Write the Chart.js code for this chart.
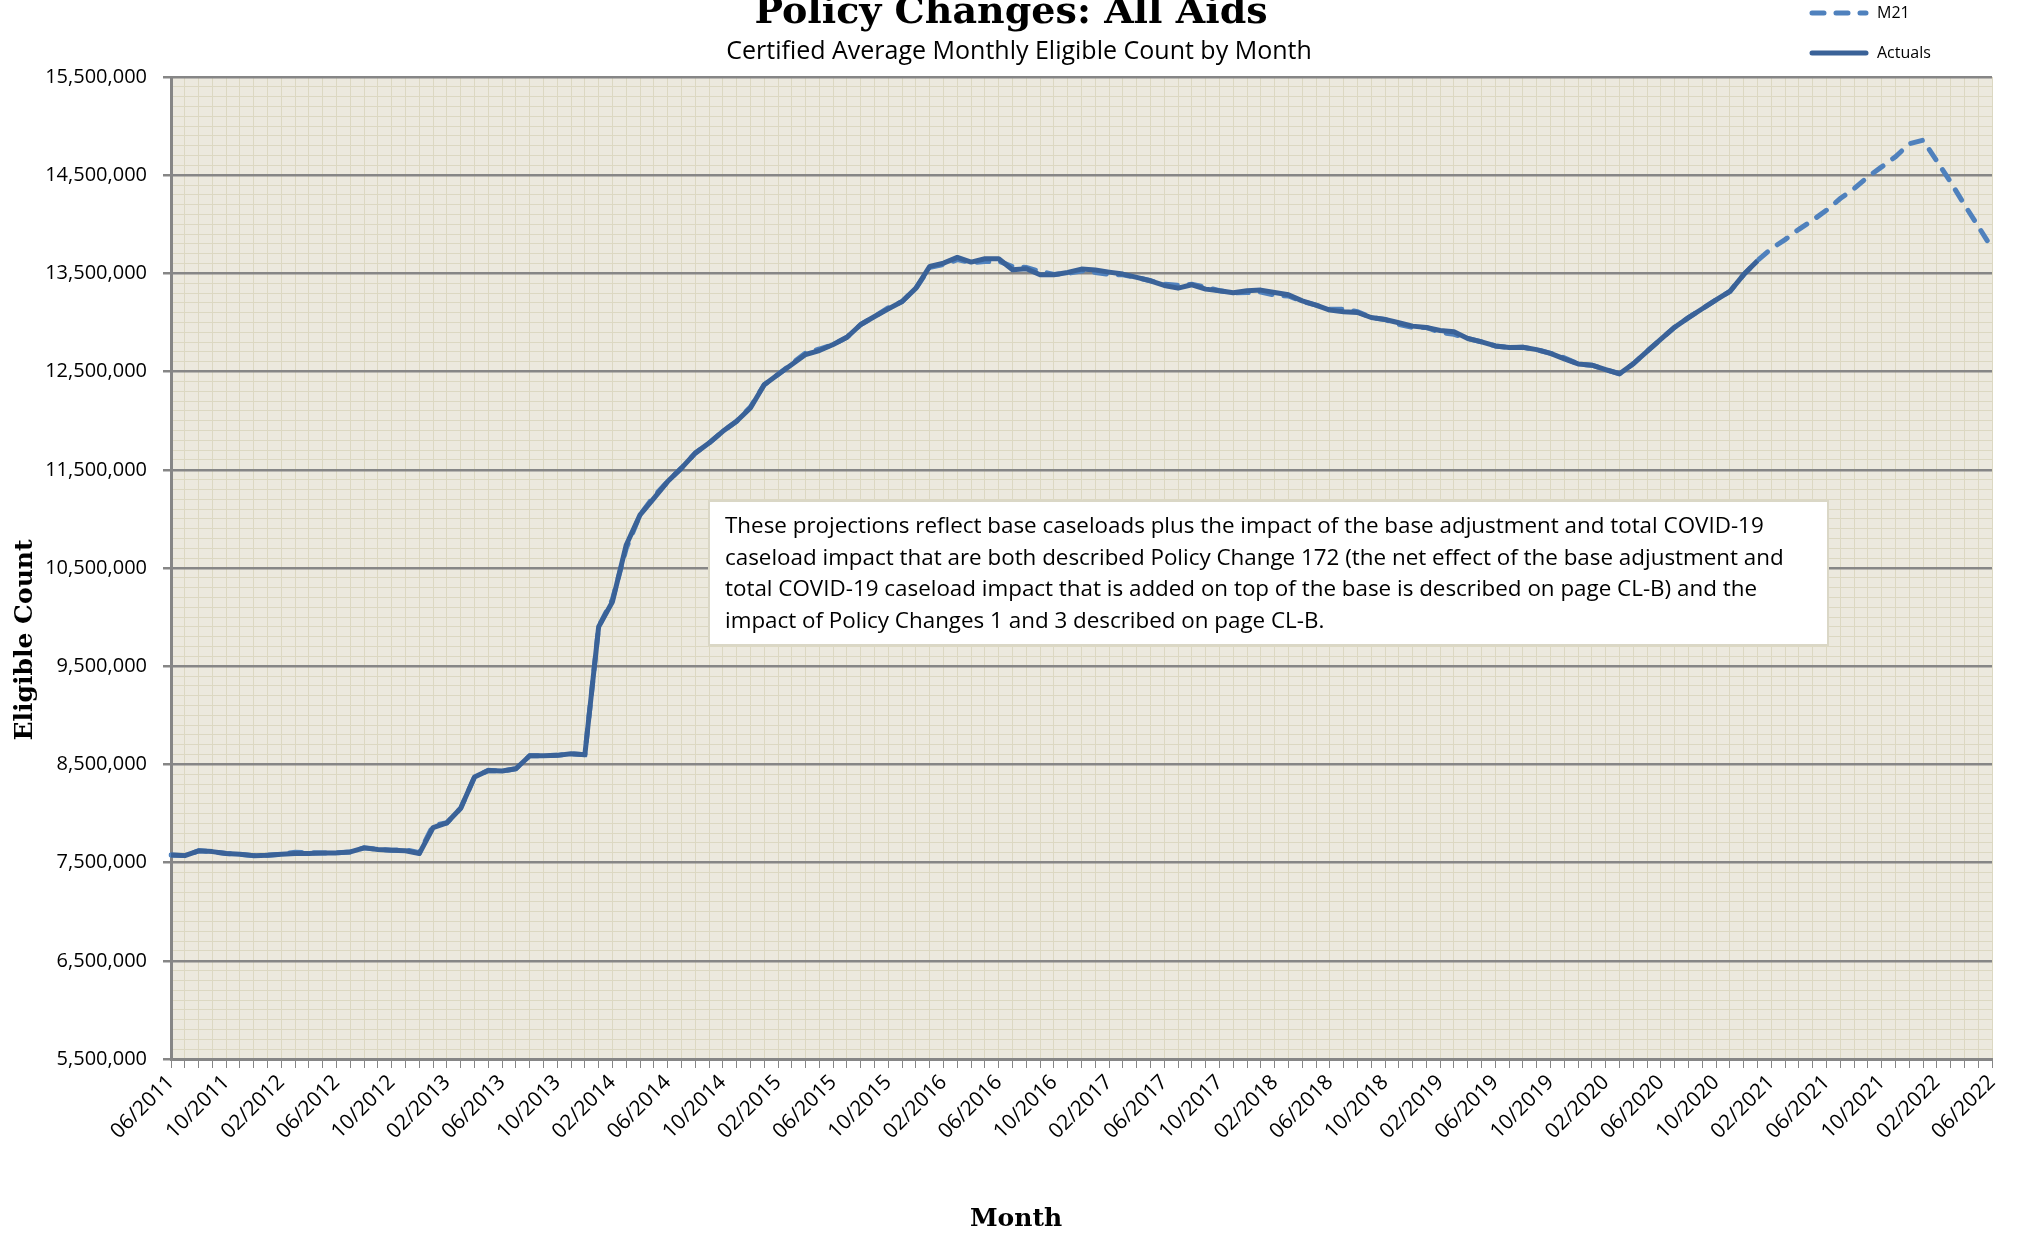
<!DOCTYPE html>
<html lang="en">
<head>
    <meta charset="UTF-8">
    <title>Policy Changes: All Aids</title>
    <script src="https://cdn.jsdelivr.net/npm/chart.js"></script>
    <style>
        body {
            margin: 0;
            background: #fff;
        }
        canvas {
            display: block;
        }
    </style>
</head>
<body>
    <canvas id="eligChart" width="2020" height="1233"></canvas>

    <script>
        // months 06/2011 .. 06/2022
        const months = [];
        for (let y = 2011; y <= 2022; y++) {
            for (let m = 1; m <= 12; m++) {
                if ((y === 2011 && m < 6) || (y === 2022 && m > 6)) continue;
                months.push(String(m).padStart(2, '0') + '/' + y);
            }
        }

        // actual eligibles, 06/2011 - 01/2021
        const actuals = [
            7578000, 7571000, 7620000, 7612000, 7592000, 7585000, 7571000, 7575000, 7585000, 7592000,
            7592000, 7599000, 7599000, 7609000, 7650000, 7633000, 7626000, 7620000, 7592000, 7857000,
            7905000, 8054000, 8371000, 8439000, 8432000, 8456000, 8588000, 8588000, 8592000, 8609000,
            8599000, 9902000, 10157000, 10735000, 11041000, 11210000, 11380000, 11517000, 11670000, 11772000,
            11892000, 11994000, 12130000, 12367000, 12470000, 12572000, 12674000, 12714000, 12776000, 12850000,
            12980000, 13061000, 13139000, 13214000, 13350000, 13571000, 13605000, 13663000, 13615000, 13649000,
            13649000, 13537000, 13547000, 13486000, 13486000, 13510000, 13544000, 13534000, 13513000, 13493000,
            13459000, 13425000, 13377000, 13350000, 13384000, 13340000, 13323000, 13302000, 13323000, 13330000,
            13306000, 13282000, 13220000, 13177000, 13126000, 13109000, 13102000, 13051000, 13031000, 12997000,
            12963000, 12949000, 12918000, 12905000, 12837000, 12803000, 12761000, 12745000, 12748000, 12724000,
            12686000, 12630000, 12578000, 12565000, 12520000, 12478000, 12580000, 12707000, 12830000, 12952000,
            13050000, 13140000, 13230000, 13316000, 13488000, 13630000
        ];

        // M21 estimate, 06/2011 - 06/2022
        const m21 = [
            7578000, 7571000, 7620000, 7612000, 7592000, 7585000, 7571000, 7575000, 7585000, 7605000,
            7600000, 7599000, 7599000, 7609000, 7650000, 7636000, 7626000, 7630000, 7600000, 7880000,
            7905000, 8054000, 8371000, 8439000, 8432000, 8456000, 8588000, 8588000, 8592000, 8609000,
            8599000, 9902000, 10180000, 10700000, 11041000, 11230000, 11380000, 11517000, 11670000, 11772000,
            11892000, 11994000, 12140000, 12367000, 12470000, 12580000, 12690000, 12730000, 12776000, 12850000,
            12980000, 13061000, 13150000, 13214000, 13350000, 13560000, 13590000, 13640000, 13610000, 13620000,
            13625000, 13570000, 13560000, 13520000, 13490000, 13500000, 13525000, 13510000, 13490000, 13485000,
            13459000, 13425000, 13390000, 13380000, 13390000, 13360000, 13323000, 13302000, 13305000, 13310000,
            13280000, 13270000, 13215000, 13177000, 13135000, 13136000, 13110000, 13051000, 13031000, 12980000,
            12950000, 12949000, 12900000, 12880000, 12837000, 12803000, 12761000, 12745000, 12748000, 12724000,
            12686000, 12640000, 12578000, 12565000, 12520000, 12478000, 12580000, 12707000, 12830000, 12952000,
            13050000, 13140000, 13230000, 13316000, 13488000, 13630000, 13752000, 13844000, 13949000, 14041000,
            14143000, 14262000, 14364000, 14483000, 14585000, 14687000, 14820000, 14857000, 14645000, 14430000,
            14200000, 13980000, 13755000
        ];

        const noteLines = [
            'These projections reflect base caseloads plus the impact of the base adjustment and total COVID-19',
            'caseload impact that are both described Policy Change 172 (the net effect of the base adjustment and',
            'total COVID-19 caseload impact that is added on top of the base is described on page CL-B) and the',
            'impact of Policy Changes 1 and 3 described on page CL-B.'
        ];

        const sans = '"Open Sans", sans-serif';
        const serif = '"DejaVu Serif", serif';
        const isMajor = v => Math.round((v - 5500000) / 100000) % 10 === 0;

        // plot background
        const plotBg = {
            id: 'plotBg',
            beforeDraw(chart) {
                const { ctx, chartArea: a } = chart;
                ctx.save();
                ctx.fillStyle = '#ECE9DE';
                ctx.fillRect(a.left, a.top, a.right - a.left, a.bottom - a.top);
                ctx.restore();
            }
        };

        // titles, legend and note box
        const extras = {
            id: 'extras',
            afterDraw(chart) {
                const ctx = chart.ctx;
                ctx.save();
                ctx.fillStyle = '#000';
                ctx.textAlign = 'center';
                ctx.textBaseline = 'alphabetic';
                ctx.font = 'bold 38px ' + serif;
                ctx.fillText('Policy Changes: All Aids', 1011, 23);
                ctx.font = '25px ' + sans;
                ctx.fillText('Certified Average Monthly Eligible Count by Month', 1019, 59);

                ctx.font = 'bold 25px ' + serif;
                ctx.fillText('Month', 1016, 1226);
                ctx.save();
                ctx.translate(32, 640);
                ctx.rotate(-Math.PI / 2);
                ctx.fillText('Eligible Count', 0, 0);
                ctx.restore();

                // legend
                const ds = chart.data.datasets;
                ds.forEach((d, i) => {
                    const y = 13 + i * 40;
                    ctx.beginPath();
                    ctx.strokeStyle = d.borderColor;
                    ctx.lineWidth = d.borderWidth;
                    ctx.lineCap = 'round';
                    ctx.setLineDash(d.borderDash || []);
                    ctx.moveTo(1812, y);
                    ctx.lineTo(1866, y);
                    ctx.stroke();
                    ctx.setLineDash([]);
                    ctx.font = '16px ' + sans;
                    ctx.textAlign = 'left';
                    ctx.textBaseline = 'middle';
                    ctx.fillText(d.label, 1877, y);
                });

                // note box
                ctx.fillStyle = '#fff';
                ctx.fillRect(709, 501, 1119, 144);
                ctx.strokeStyle = '#DAD7C6';
                ctx.lineWidth = 2;
                ctx.strokeRect(709, 501, 1119, 144);
                ctx.fillStyle = '#000';
                ctx.font = '22.4px ' + sans;
                ctx.textAlign = 'left';
                ctx.textBaseline = 'middle';
                noteLines.forEach((t, i) => ctx.fillText(t, 725, 527 + i * 31.5));
                ctx.restore();
            }
        };

        new Chart(document.getElementById('eligChart').getContext('2d'), {
            type: 'line',
            data: {
                labels: months,
                datasets: [
                    {
                        label: 'M21',
                        data: m21,
                        borderColor: '#4F81BD',
                        borderWidth: 5,
                        borderDash: [12, 12],
                        borderCapStyle: 'round',
                        pointRadius: 0,
                        tension: 0,
                        order: 1
                    },
                    {
                        label: 'Actuals',
                        data: actuals,
                        borderColor: '#3A6298',
                        borderWidth: 5,
                        borderJoinStyle: 'round',
                        pointRadius: 0,
                        tension: 0,
                        order: 0
                    }
                ]
            },
            options: {
                responsive: false,
                animation: false,
                layout: { padding: { top: 77, right: 28, left: 0, bottom: 0 } },
                plugins: {
                    legend: { display: false },
                    tooltip: { enabled: false }
                },
                scales: {
                    x: {
                        afterFit: s => { s.height = 174; },
                        ticks: {
                            autoSkip: false,
                            minRotation: 45,
                            maxRotation: 45,
                            padding: 2,
                            color: '#000',
                            font: { family: sans, size: 21 },
                            callback: (v, i) => i % 4 === 0 ? months[i] : ''
                        },
                        grid: {
                            color: '#DCD8C2',
                            lineWidth: 1,
                            tickLength: 9,
                            tickColor: '#868686'
                        },
                        border: { color: '#868686', width: 3 }
                    },
                    y: {
                        min: 5500000,
                        max: 15500000,
                        afterFit: s => { s.width = 171; },
                        ticks: {
                            stepSize: 100000,
                            autoSkip: false,
                            padding: 16,
                            color: '#000',
                            font: { family: sans, size: 20 },
                            callback: v => isMajor(v) ? v.toLocaleString('en-US') : ''
                        },
                        grid: {
                            color: c => isMajor(c.tick.value) ? '#868686' : '#DCD8C2',
                            lineWidth: c => isMajor(c.tick.value) ? 2.5 : 1,
                            tickLength: 8,
                            tickColor: c => isMajor(c.tick.value) ? '#868686' : 'rgba(0,0,0,0)'
                        },
                        border: { color: '#868686', width: 3 }
                    }
                }
            },
            plugins: [plotBg, extras]
        });
    </script>
</body>
</html>
